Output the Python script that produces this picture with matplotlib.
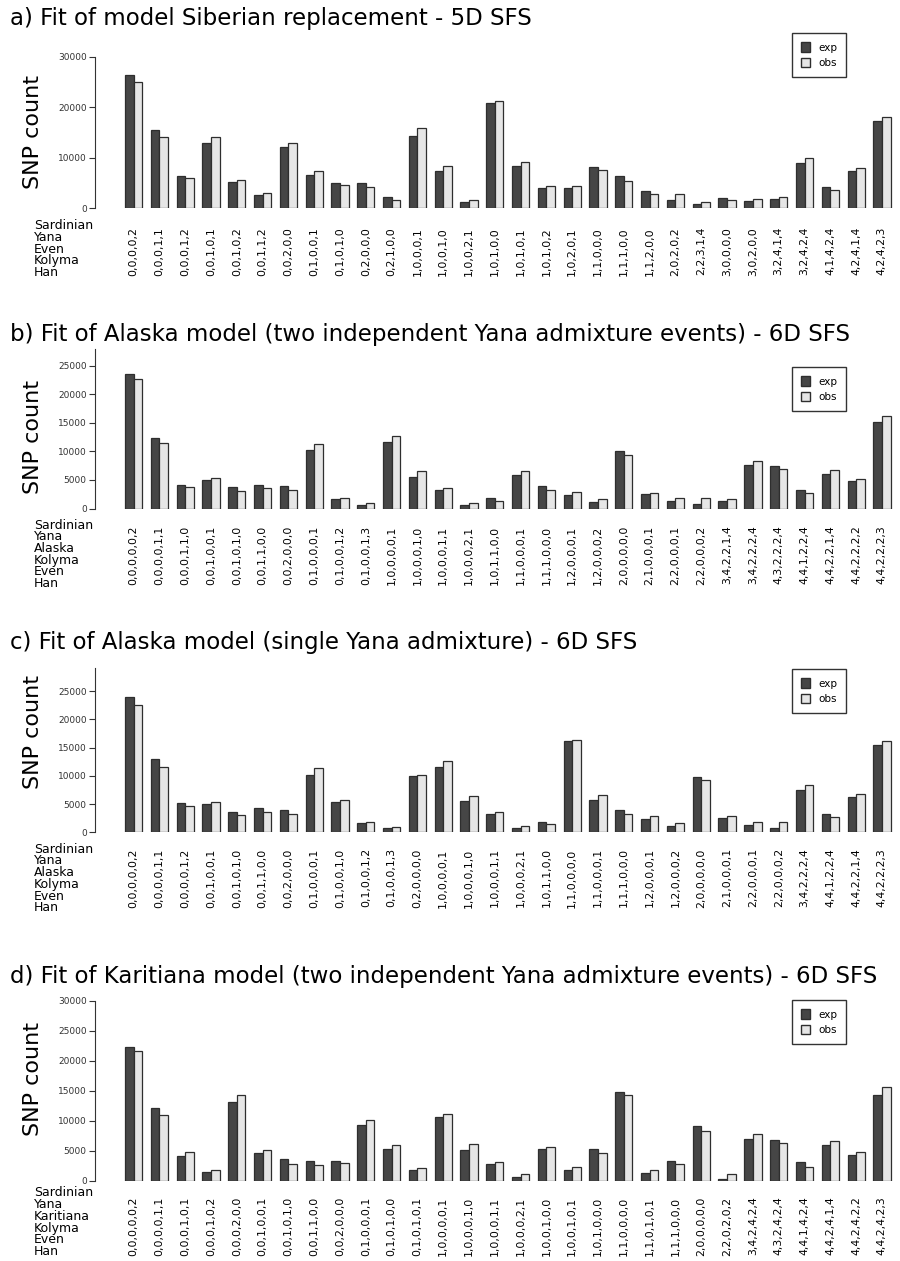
import matplotlib
matplotlib.use("Agg")
import matplotlib.pyplot as plt
from matplotlib.patches import Patch
import numpy as np

# ---- data ----
rows_a = ["Sardinian", "Yana", "Even", "Kolyma", "Han"]
labels_a = ["0,0,0,0,2", "0,0,0,1,1", "0,0,0,1,2", "0,0,1,0,1", "0,0,1,0,2", "0,0,1,1,2",
            "0,0,2,0,0", "0,1,0,0,1", "0,1,0,1,0", "0,2,0,0,0", "0,2,1,0,0", "1,0,0,0,1",
            "1,0,0,1,0", "1,0,0,2,1", "1,0,1,0,0", "1,0,1,0,1", "1,0,1,0,2", "1,0,2,0,1",
            "1,1,0,0,0", "1,1,1,0,0", "1,1,2,0,0", "2,0,2,0,2", "2,2,3,1,4", "3,0,0,0,0",
            "3,0,2,0,0", "3,2,4,1,4", "3,2,4,2,4", "4,1,4,2,4", "4,2,4,1,4", "4,2,4,2,3"]
exp_a = [26500, 15400, 6400, 13000, 5100, 2500, 12200, 6600, 5000, 4900, 2100, 14400,
         7400, 1200, 20900, 8300, 3900, 3900, 8200, 6300, 3300, 1600, 800, 2000,
         1300, 1800, 8900, 4100, 7400, 17200]
obs_a = [25100, 14100, 6000, 14100, 5500, 2900, 12900, 7400, 4500, 4200, 1600, 15900,
         8300, 1600, 21300, 9200, 4300, 4300, 7600, 5400, 2700, 2700, 1200, 1600,
         1700, 2200, 9900, 3500, 7900, 18000]

rows_b = ["Sardinian", "Yana", "Alaska", "Kolyma", "Even", "Han"]
labels_b = ["0,0,0,0,0,2", "0,0,0,0,1,1", "0,0,0,1,1,0", "0,0,1,0,0,1", "0,0,1,0,1,0",
            "0,0,1,1,0,0", "0,0,2,0,0,0", "0,1,0,0,0,1", "0,1,0,0,1,2", "0,1,0,0,1,3",
            "1,0,0,0,0,1", "1,0,0,0,1,0", "1,0,0,0,1,1", "1,0,0,0,2,1", "1,0,1,1,0,0",
            "1,1,0,0,0,1", "1,1,1,0,0,0", "1,2,0,0,0,1", "1,2,0,0,0,2", "2,0,0,0,0,0",
            "2,1,0,0,0,1", "2,2,0,0,0,1", "2,2,0,0,0,2", "3,4,2,2,1,4", "3,4,2,2,2,4",
            "4,3,2,2,2,4", "4,4,1,2,2,4", "4,4,2,2,1,4", "4,4,2,2,2,2", "4,4,2,2,2,3"]
exp_b = [23500, 12400, 4100, 5000, 3800, 4200, 4000, 10300, 1600, 600, 11700, 5500,
         3300, 700, 1900, 5900, 3900, 2400, 1200, 10000, 2500, 1300, 800, 1400,
         7600, 7400, 3300, 6000, 4800, 15100]
obs_b = [22600, 11500, 3700, 5400, 3000, 3600, 3200, 11300, 1900, 900, 12700, 6500,
         3600, 1000, 1400, 6600, 3300, 2900, 1600, 9400, 2800, 1800, 1900, 1700,
         8400, 7000, 2700, 6700, 5200, 16200]

rows_c = ["Sardinian", "Yana", "Alaska", "Kolyma", "Even", "Han"]
labels_c = ["0,0,0,0,0,2", "0,0,0,0,1,1", "0,0,0,0,1,2", "0,0,1,0,0,1", "0,0,1,0,1,0",
            "0,0,1,1,0,0", "0,0,2,0,0,0", "0,1,0,0,0,1", "0,1,0,0,1,0", "0,1,0,0,1,2",
            "0,1,0,0,1,3", "0,2,0,0,0,0", "1,0,0,0,0,1", "1,0,0,0,1,0", "1,0,0,0,1,1",
            "1,0,0,0,2,1", "1,0,1,1,0,0", "1,1,0,0,0,0", "1,1,0,0,0,1", "1,1,1,0,0,0",
            "1,2,0,0,0,1", "1,2,0,0,0,2", "2,0,0,0,0,0", "2,1,0,0,0,1", "2,2,0,0,0,1",
            "2,2,0,0,0,2", "3,4,2,2,2,4", "4,4,1,2,2,4", "4,4,2,2,1,4", "4,4,2,2,2,3"]
exp_c = [24000, 12900, 5200, 5000, 3600, 4300, 4000, 10200, 5400, 1600, 700, 9900,
         11600, 5600, 3300, 800, 1900, 16100, 5800, 3900, 2400, 1200, 9800, 2500,
         1300, 800, 7500, 3300, 6200, 15400]
obs_c = [22600, 11600, 4600, 5400, 3000, 3600, 3200, 11300, 5700, 1900, 1000, 10200,
         12700, 6500, 3600, 1100, 1400, 16300, 6600, 3300, 2900, 1600, 9300, 2800,
         1800, 1900, 8400, 2700, 6700, 16200]

rows_d = ["Sardinian", "Yana", "Karitiana", "Kolyma", "Even", "Han"]
labels_d = ["0,0,0,0,0,2", "0,0,0,0,1,1", "0,0,0,1,0,1", "0,0,0,1,0,2", "0,0,0,2,0,0",
            "0,0,1,0,0,1", "0,0,1,0,1,0", "0,0,1,1,0,0", "0,0,2,0,0,0", "0,1,0,0,0,1",
            "0,1,0,1,0,0", "0,1,0,1,0,1", "1,0,0,0,0,1", "1,0,0,0,1,0", "1,0,0,0,1,1",
            "1,0,0,0,2,1", "1,0,0,1,0,0", "1,0,0,1,0,1", "1,0,1,0,0,0", "1,1,0,0,0,0",
            "1,1,0,1,0,1", "1,1,1,0,0,0", "2,0,0,0,0,0", "2,2,0,2,0,2", "3,4,2,4,2,4",
            "4,3,2,4,2,4", "4,4,1,4,2,4", "4,4,2,4,1,4", "4,4,2,4,2,2", "4,4,2,4,2,3"]
exp_d = [22400, 12200, 4200, 1500, 13200, 4700, 3700, 3300, 3400, 9400, 5400, 1800,
         10700, 5100, 2900, 600, 5300, 1900, 5300, 14900, 1400, 3300, 9200, 300,
         7000, 6800, 3100, 6000, 4400, 14400]
obs_d = [21700, 11000, 4900, 1800, 14300, 5200, 2900, 2600, 3000, 10200, 6000, 2100,
         11100, 6100, 3200, 1100, 5700, 2400, 4700, 14400, 1800, 2900, 8400, 1100,
         7900, 6300, 2400, 6600, 4800, 15600]

titles = ["a) Fit of model Siberian replacement - 5D SFS",
          "b) Fit of Alaska model (two independent Yana admixture events) - 6D SFS",
          "c) Fit of Alaska model (single Yana admixture) - 6D SFS",
          "d) Fit of Karitiana model (two independent Yana admixture events) - 6D SFS"]

W, H = 900, 1261
DARK = '#464646'
LIGHT = '#e6e6e6'
EDGE = '#2e2e2e'

fig = plt.figure(figsize=(W / 100, H / 100), dpi=100)

# layout per panel (pixels): zero line, top of axes, y max, spine top, ticks, title y, ylabel y, legend top, label offset, row offset
panels = [
    (rows_a, labels_a, exp_a, obs_a, 208, 57, 30000, 30000, range(0, 30001, 10000), 18, 132, 33, 19, 17.7),
    (rows_b, labels_b, exp_b, obs_b, 508.5, 348.6, 28000, 28000, range(0, 25001, 5000), 335, 437, 367, 17, 16.5),
    (rows_c, labels_c, exp_c, obs_c, 832.3, 668.4, 29000, 29000, range(0, 25001, 5000), 643, 732, 669, 16, 17),
    (rows_d, labels_d, exp_d, obs_d, 1181, 1001, 30000, 30000, range(0, 30001, 5000), 977, 1079, 1000, 15.5, 12),
]

for i, (rows, labels, ex, ob, zero, top, ymax, stop, ticks, ty, yly, legy, loff, roff) in enumerate(panels):
    left, right = 95, 900
    ax = fig.add_axes([left / W, 1 - zero / H, (right - left) / W, (zero - top) / H])
    n = len(labels)
    g = 3 * np.arange(n)
    ax.bar(g + 1.5, ex, 1.0, color=DARK, edgecolor=EDGE, linewidth=0.9)
    ax.bar(g + 2.5, ob, 1.0, color=LIGHT, edgecolor=EDGE, linewidth=0.9)
    ax.set_xlim(-2.48, 91.1)
    ax.set_ylim(0, ymax)

    for s in ['top', 'right', 'bottom']:
        ax.spines[s].set_visible(False)
    ax.spines['left'].set_bounds(0, stop)
    ax.spines['left'].set_linewidth(0.8)
    ax.spines['left'].set_color('#333333')

    ax.set_yticks(list(ticks))
    ax.tick_params(axis='y', labelsize=6.5, length=4, width=0.8, pad=2, colors='#333333')
    ax.set_xticks(g + 2)
    ax.set_xticklabels(labels, rotation=90, fontsize=7.8, va='top', ha='center')
    ax.tick_params(axis='x', length=0, pad=loff * 0.72)
    ax.patch.set_alpha(0)

    fig.text(10 / W, 1 - ty / H, titles[i], fontsize=16.5, va='center', ha='left')
    fig.text(33 / W, 1 - yly / H, "SNP count", fontsize=16, rotation=90,
             va='center', ha='center')
    for k, name in enumerate(rows):
        fig.text(34 / W, 1 - (zero + roff + k * 11.7) / H, name, fontsize=9,
                 va='center', ha='left')

    handles = [Patch(facecolor=DARK, edgecolor=EDGE, label='exp'),
               Patch(facecolor=LIGHT, edgecolor=EDGE, label='obs')]
    leg = ax.legend(handles=handles, loc='upper left',
                    bbox_to_anchor=(792 / W, 1 - legy / H), bbox_transform=fig.transFigure,
                    fontsize=7.5, frameon=True, fancybox=False, handlelength=0.8,
                    handleheight=1.0, handletextpad=0.8, borderpad=0.9, labelspacing=0.5,
                    borderaxespad=0)
    leg.get_frame().set_edgecolor('black')
    leg.get_frame().set_linewidth(1.0)

fig.savefig("out.png", dpi=100)
